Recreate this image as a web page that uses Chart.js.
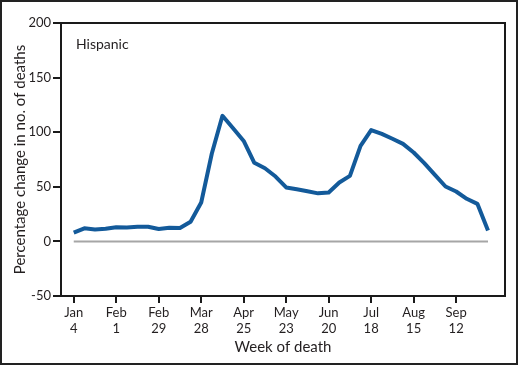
<!DOCTYPE html>
<html>
<head>
<meta charset="utf-8">
<script src="https://cdn.jsdelivr.net/npm/chart.js@4/dist/chart.umd.min.js"></script>
<style>
html,body{margin:0;padding:0;background:#fff;}
#wrap{width:518px;height:365px;position:relative;}
</style>
</head>
<body>
<div id="wrap"><canvas id="c" width="518" height="365"></canvas></div>
<script>
// Week index (0 = week of Jan 4) and percentage change in number of deaths
const weekIndex = [0,1,2,3,4,5,6,7,8,9,10,11,12,13,14,15,16,17,18,19,20,21,22,23,24,25,26,27,28,29,30,31,32,33,34,35,36,37,38,39];
const pctChange = [8,12,11,11.5,13,12.8,13.4,13.4,11.3,12.5,12.2,18,35.6,80.5,115,103.6,92,72,67,59.4,49.4,47.8,46,44,44.8,54,60,87.5,102,98.4,94,89.3,81.4,71.6,61,50.3,45.7,39,34.4,10];
const tickWeeks = [0,4,8,12,16,20,24,28,32,36];
const tickLabels = [["Jan","4"],["Feb","1"],["Feb","29"],["Mar","28"],["Apr","25"],["May","23"],["Jun","20"],["Jul","18"],["Aug","15"],["Sep","12"]];
const baselineWeeks = [0,39];
const baselineValues = [0,0];
const yTicks = [-50,0,50,100,150,200];
const groupLabel = "Hispanic";

const FONT = "Lato";
const TXT = "#231f20";

const framePlugin = {
  id: 'frame',
  afterDraw(chart){
    const {ctx, chartArea:a} = chart;
    ctx.save();
    ctx.strokeStyle = '#1a1a1a';
    ctx.lineWidth = 2;
    ctx.strokeRect(a.left, a.top, a.right - a.left, a.bottom - a.top);
    ctx.lineWidth = 2;
    ctx.strokeStyle = '#222';
    ctx.strokeRect(1, 1, chart.width - 2, chart.height - 2);
    ctx.fillStyle = TXT;
    ctx.font = "14px " + FONT;
    ctx.textBaseline = 'middle';
    ctx.textAlign = 'left';
    ctx.fillText(groupLabel, a.left + 15, a.top + 21);
    ctx.restore();
  }
};

new Chart(document.getElementById('c'), {
  type: 'line',
  data: {
    datasets: [
      {
        data: baselineWeeks.map((w,i)=>({x:w, y:baselineValues[i]})),
        borderColor: '#a6a6a6',
        borderWidth: 2,
        pointRadius: 0,
        tension: 0,
        order: 2
      },
      {
        data: weekIndex.map((w,i)=>({x:w, y:pctChange[i]})),
        borderColor: '#135a9a',
        borderWidth: 4,
        pointRadius: 0,
        tension: 0,
        borderJoinStyle: 'round',
        borderCapStyle: 'butt',
        order: 1
      }
    ]
  },
  options: {
    responsive: false,
    animation: false,
    devicePixelRatio: 1,
    layout: { padding: { left: 4, right: 13, top: 23, bottom: 4 } },
    plugins: { legend: { display: false }, tooltip: { enabled: false } },
    scales: {
      x: {
        type: 'linear',
        min: -1.2,
        max: 40.6,
        afterBuildTicks: axis => { axis.ticks = tickWeeks.map(v => ({value: v})); },
        afterFit: axis => { axis.height = 65; },
        ticks: {
          autoSkip: false,
          maxRotation: 0,
          padding: 2,
          color: TXT,
          font: { family: FONT, size: 13, lineHeight: 1.2 },
          callback: (v) => { const i = tickWeeks.indexOf(v); return i >= 0 ? tickLabels[i] : ''; }
        },
        grid: { drawOnChartArea: false, drawTicks: true, tickLength: 7, color: '#1a1a1a', lineWidth: 2 },
        border: { display: true, color: '#1a1a1a', width: 2 },
        title: { display: true, text: 'Week of death', color: TXT, font: { family: FONT, size: 15, lineHeight: 1.2 }, padding: { top: 0, bottom: 5 } }
      },
      y: {
        min: -50,
        max: 200,
        afterBuildTicks: axis => { axis.ticks = yTicks.map(v => ({value: v})); },
        afterFit: axis => { axis.width = 57; },
        ticks: { padding: 2, color: TXT, font: { family: FONT, size: 13 } },
        grid: { drawOnChartArea: false, drawTicks: true, tickLength: 8, color: '#1a1a1a', lineWidth: 2 },
        border: { display: true, color: '#1a1a1a', width: 2 },
        title: { display: true, text: 'Percentage change in no. of deaths', color: TXT, font: { family: FONT, size: 15, lineHeight: 1.2 }, padding: { top: 7, bottom: 0 } }
      }
    }
  },
  plugins: [framePlugin]
});
</script>
</body>
</html>
